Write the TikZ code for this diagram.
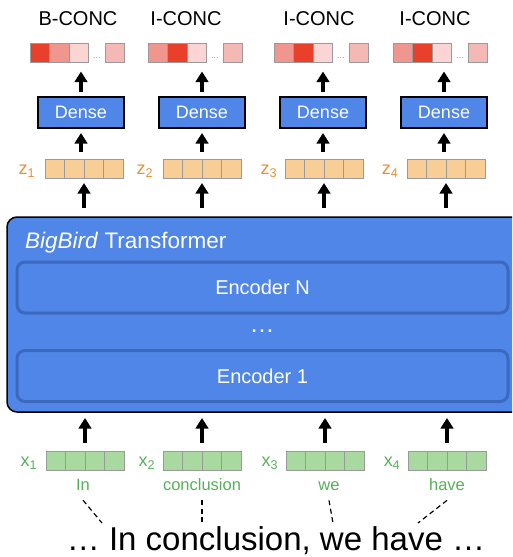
\documentclass[tikz,border=0pt]{standalone}
\usepackage{fontspec}
\setmainfont{Liberation Sans}
\usetikzlibrary{arrows.meta,positioning}

\definecolor{bbblue}{HTML}{5086E8}
\definecolor{encedge}{HTML}{3C69BE}
\definecolor{zfill}{HTML}{F9CD96}
\definecolor{zlabel}{HTML}{E69138}
\definecolor{xfill}{HTML}{A8DAA0}
\definecolor{xlabel}{HTML}{55B157}
\definecolor{redA}{HTML}{E8402A}
\definecolor{redB}{HTML}{F0968F}
\definecolor{redC}{HTML}{FAD5D3}
\definecolor{redD}{HTML}{F4B9B5}
\definecolor{cellgray}{HTML}{9A9A9A}

\tikzset{
  cell/.style={draw=cellgray, line width=0.7pt, minimum width=19.5pt, minimum height=19pt, inner sep=0pt, outer sep=0pt},
  vecbox/.style={cell, minimum width=78pt, anchor=west},
  celldots/.style={text=gray, inner sep=0pt, font=\fontsize{8}{8}\selectfont},
  densebox/.style={draw=black, line width=2pt, fill=bbblue, text=white, minimum width=86pt, minimum height=31pt, inner sep=0pt, outer sep=0pt, font=\fontsize{18}{18}\selectfont},
  bigbox/.style={draw=black, line width=1.5pt, fill=bbblue, rounded corners=10pt, minimum width=516pt, minimum height=195pt, inner sep=0pt, outer sep=0pt},
  encoder/.style={draw=encedge, line width=3pt, fill=bbblue, rounded corners=8pt, text=white, minimum width=491pt, minimum height=51pt, inner sep=0pt, outer sep=0pt, font=\fontsize{20}{20}\selectfont},
  uparrow/.style={line width=4pt, -{Triangle[width=12.5pt,length=10.5pt]}},
  wordlink/.style={line width=1.2pt, dash pattern=on 5pt off 3.5pt},
  veclabel/.style={inner sep=0pt, font=\fontsize{18}{18}\selectfont},
  word/.style={anchor=base, inner sep=0pt, text=xlabel, font=\fontsize{16.5}{16.5}\selectfont}
}

\begin{document}
\begin{tikzpicture}[x=1pt,y=-1pt]
\useasboundingbox (0,0) rectangle (512,557);

% transformer block, cut at the right edge
\begin{scope}
  \clip (0,0) rectangle (512,557);
  \node[bigbox] (bb) at (265,314.5) {};
\end{scope}
\node[anchor=west, inner sep=0pt, text=white, font=\fontsize{22.5}{22.5}\selectfont] (title) at (25,243) {\textit{BigBird} Transformer};
\node[encoder] (encN) at (262.5,287.5) {Encoder N};
\node[text=white, inner sep=0pt, font=\fontsize{25}{25}\selectfont] (encdots) at (262,331) {…};
\node[encoder] (enc1) at (262.5,376) {Encoder 1};

% tags on top
\foreach \i/\tx/\tag in {1/78/B-CONC, 2/186/I-CONC, 3/319/I-CONC, 4/435/I-CONC}
  \node[inner sep=0pt, font=\fontsize{20}{20}\selectfont] (tag\i) at (\tx,18.5) {\tag};

% output scores
\foreach \i/\L/\ca/\cb/\cc in {1/30/redA/redB/redC, 2/148/redB/redA/redC, 3/274/redB/redA/redC, 4/393/redB/redA/redC} {
  \node[cell, fill=\ca, anchor=west] (o\i-a) at (\L,53) {};
  \node[cell, fill=\cb, right=0pt of o\i-a] (o\i-b) {};
  \node[cell, fill=\cc, right=0pt of o\i-b] (o\i-c) {};
  \node[cell, fill=redD, right=16.5pt of o\i-c] (o\i-e) {};
  \node[celldots] (o\i-d) at ([xshift=8.25pt,yshift=-5pt]o\i-c.east) {…};
}

% dense layers
\foreach \i/\dx in {1/81, 2/202, 3/323, 4/444}
  \node[densebox] (d\i) at (\dx,112.5) {Dense};

% z vectors
\foreach \i/\zx/\lx in {1/45/27, 2/163/145, 3/285/269, 4/407/390} {
  \node[vecbox, fill=zfill] (z\i) at (\zx,168.5) {};
  \foreach \k in {1,2,3}
    \draw[cellgray, line width=0.7pt] ([xshift=\k*19.5pt]z\i.north west) -- ([xshift=\k*19.5pt]z\i.south west);
  \node[veclabel, text=zlabel] (zl\i) at (\lx,171) {z\textsubscript{\i}};
}

% x vectors and words
\foreach \i/\xx/\lx/\wx/\sx/\w in {1/46/29/83/102/In, 2/163/147/202/202/conclusion, 3/286/270/329/333/we, 4/408/392/447/418/have} {
  \node[vecbox, fill=xfill] (x\i) at (\xx,460.5) {};
  \foreach \k in {1,2,3}
    \draw[cellgray, line width=0.7pt] ([xshift=\k*19.5pt]x\i.north west) -- ([xshift=\k*19.5pt]x\i.south west);
  \node[veclabel, text=xlabel] (xl\i) at (\lx,463) {x\textsubscript{\i}};
  \node[word] (w\i) at (\wx,490) {\w};
  \coordinate (s\i) at (\sx,523);
  \draw[wordlink] ([yshift=-10pt]w\i.south) -- (s\i);
}

\node[anchor=base, inner sep=0pt, font=\fontsize{33}{33}\selectfont] (sent) at (276,550) {… In conclusion, we have …};

% arrows
\foreach \i in {1,...,4} {
  \draw[uparrow, shorten <=5pt, shorten >=9pt] (d\i.north) -- (d\i.north |- o\i-a.south);
  \draw[uparrow, shorten <=7pt, shorten >=5pt] (d\i.south |- z\i.north) -- (d\i.south);
  \draw[uparrow, shorten <=9pt, shorten >=5pt] (z\i.south |- bb.north) -- (z\i.south);
  \draw[uparrow, shorten <=8pt, shorten >=6pt] (x\i.north) -- (x\i.north |- bb.south);
}
\end{tikzpicture}
\end{document}
